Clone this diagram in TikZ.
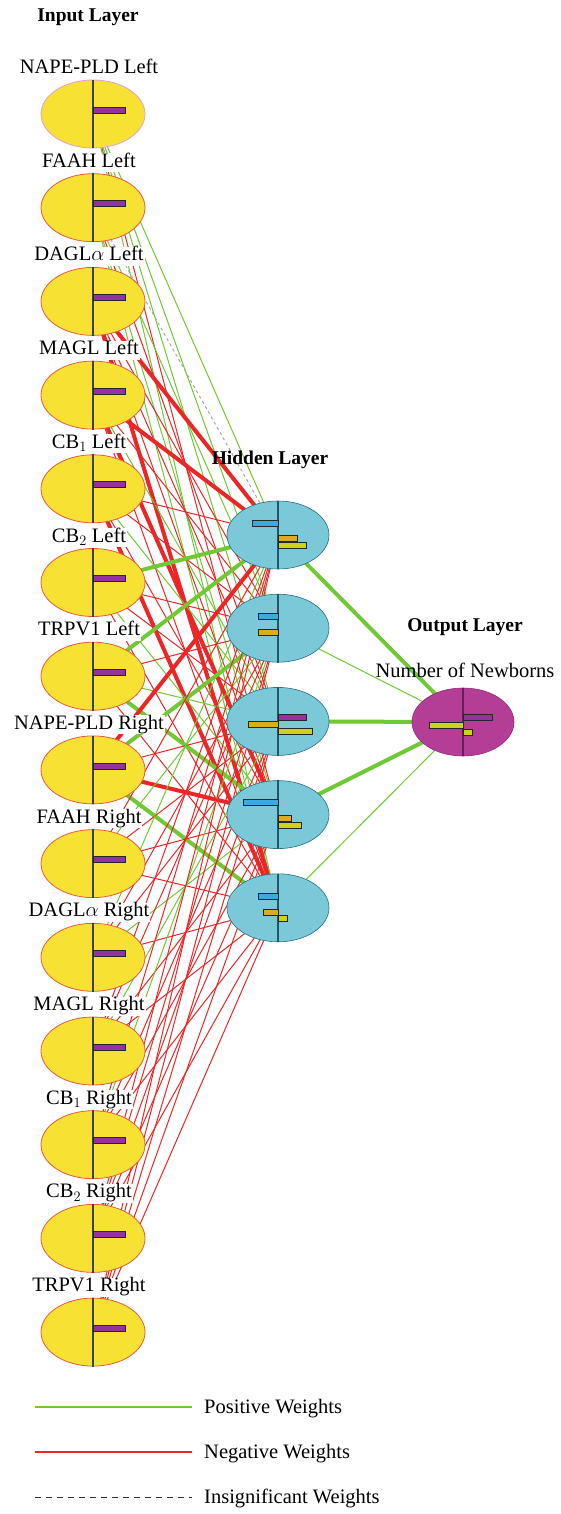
\documentclass[tikz,border=0pt]{standalone}
\usepackage{fontspec}
\setmainfont{Liberation Serif}
\usetikzlibrary{shapes.geometric,backgrounds}

\definecolor{inyellow}{RGB}{247,226,52}
\definecolor{inred}{RGB}{232,90,60}
\definecolor{inpink}{RGB}{220,160,220}
\definecolor{hidblue}{RGB}{122,200,216}
\definecolor{hidborder}{RGB}{40,110,130}
\definecolor{outmag}{RGB}{180,62,150}
\definecolor{outborder}{RGB}{150,40,125}
\definecolor{barpurple}{RGB}{150,50,160}
\definecolor{barblue}{RGB}{60,170,225}
\definecolor{barorange}{RGB}{222,172,24}
\definecolor{baryel}{RGB}{205,210,30}
\definecolor{posgreen}{RGB}{112,200,52}
\definecolor{negred}{RGB}{236,38,38}

\tikzset{
  innode/.style={ellipse, fill=inyellow, line width=0.8pt,
    minimum width=104pt, minimum height=68pt, inner sep=0pt},
  hidnode/.style={ellipse, fill=hidblue, draw=hidborder, line width=0.6pt,
    minimum width=102pt, minimum height=68pt, inner sep=0pt},
  outnode/.style={ellipse, fill=outmag, draw=outborder, line width=0.6pt,
    minimum width=102pt, minimum height=68pt, inner sep=0pt},
  midline/.style={draw=black!75, line width=1.3pt},
  wbar/.style={draw=black!85, line width=0.7pt},
  lbl/.style={font=\fontsize{20.5}{23}\selectfont, fill=white, inner sep=1pt,
    text height=13pt, text depth=4pt},
  ttl/.style={font=\fontsize{19.5}{23}\selectfont\bfseries},
  poswt/.style={draw=posgreen, line width=1pt},
  negwt/.style={draw=negred, line width=1pt},
  poswtb/.style={draw=posgreen, line width=4pt},
  negwtb/.style={draw=negred, line width=4pt},
  insigwt/.style={draw=gray!70, dashed, line width=1pt}
}

% bar inside a node: node, x from, x to, y middle, colour
\newcommand{\weightbar}[5]{%
  \draw[wbar, fill=#5] ([shift={(#2,#4-3)}]#1.center) rectangle ([shift={(#3,#4+3)}]#1.center);}

\begin{document}
\begin{tikzpicture}[x=1pt, y=-1pt]
  \useasboundingbox (0,0) rectangle (560,1514);

  % input layer
  \node[ttl] (tin) at (88,17) {Input Layer};
  \foreach \name/\bc [count=\i] in {NAPE-PLD Left/inpink, FAAH Left/inred,
      DAGL$\alpha$ Left/inred, MAGL Left/inred, CB$_1$ Left/inred, CB$_2$ Left/inred,
      TRPV1 Left/inred, NAPE-PLD Right/inred, FAAH Right/inred,
      DAGL$\alpha$ Right/inred, MAGL Right/inred, CB$_1$ Right/inred,
      CB$_2$ Right/inred, TRPV1 Right/inred}{
    \pgfmathsetmacro{\yy}{114+(\i-1)*93.7}
    \node[innode, draw=\bc] (in\i) at (93,\yy) {};
    \draw[midline] (in\i.north) -- (in\i.south);
    \weightbar{in\i}{0}{32}{-4}{barpurple}
    \node[lbl] (lin\i) at (89,\yy-45) {\name};
  }

  % hidden layer
  \node[ttl] (thid) at (270,460) {Hidden Layer};
  \foreach \i in {1,...,5}{
    \pgfmathsetmacro{\yy}{535+(\i-1)*93.2}
    \node[hidnode] (h\i) at (278,\yy) {};
    \draw[midline, draw=hidborder!80!black] (h\i.north) -- (h\i.south);
  }
  \weightbar{h1}{-26}{0}{-12}{barblue}
  \weightbar{h1}{0}{19}{3}{barorange}
  \weightbar{h1}{0}{28}{10}{baryel}
  \weightbar{h2}{-20}{0}{-12}{barblue}
  \weightbar{h2}{-20}{0}{4}{barorange}
  \weightbar{h3}{0}{28}{-4}{barpurple}
  \weightbar{h3}{-30}{0}{3}{barorange}
  \weightbar{h3}{0}{34}{10}{baryel}
  \weightbar{h4}{-35}{0}{-12}{barblue}
  \weightbar{h4}{0}{13}{4}{barorange}
  \weightbar{h4}{0}{23}{11}{baryel}
  \weightbar{h5}{-20}{0}{-11}{barblue}
  \weightbar{h5}{-15}{0}{5}{barorange}
  \weightbar{h5}{0}{9}{11}{baryel}

  % output layer
  \node[ttl] (tout) at (465,627) {Output Layer};
  \node[outnode] (out) at (463,722) {};
  \draw[midline, draw=outborder!70!black] (out.north) -- (out.south);
  \weightbar{out}{0}{29}{-5}{barpurple}
  \weightbar{out}{-34}{0}{3}{baryel}
  \weightbar{out}{0}{9}{10}{baryel}
  \node[lbl, fill=none] (lout) at (465,673) {Number of Newborns};

  % weights
  \begin{pgfonlayer}{background}
    \foreach \i/\ws in {1/{poswt,poswt,poswt,negwt,poswt}, 2/{insigwt,poswt,negwt,poswt,poswt},
        3/{negwtb,negwt,negwt,negwt,negwtb}, 4/{negwtb,negwt,poswt,negwtb,negwt},
        5/{negwt,negwt,poswt,negwt,negwtb}, 6/{poswtb,negwt,negwt,poswt,negwt},
        7/{poswtb,negwt,poswt,poswtb,negwt}, 8/{negwtb,poswtb,negwt,negwtb,poswtb},
        9/{negwt,poswt,negwt,negwt,negwt}, 10/{poswt,negwt,negwt,poswt,negwt},
        11/{negwt,negwt,poswt,negwt,negwt}, 12/{negwt,poswt,negwt,negwt,negwt},
        13/{negwt,negwt,negwt,negwt,negwt}, 14/{negwt,negwt,negwt,negwt,negwt}}{
      \foreach \w [count=\j] in \ws
        \draw[\w] (in\i.center) -- (h\j.center);
    }
    \foreach \j/\w in {1/poswtb, 2/poswt, 3/poswtb, 4/poswtb, 5/poswt}
      \draw[\w] (h\j.center) -- (out.center);
  \end{pgfonlayer}

  % legend
  \coordinate (lg1a) at (35,1407);
  \coordinate (lg1b) at (192,1407);
  \coordinate (lg2a) at (35,1452);
  \coordinate (lg2b) at (192,1452);
  \coordinate (lg3a) at (35,1497);
  \coordinate (lg3b) at (192,1497);
  \draw[poswt, line width=1.3pt] (lg1a) -- (lg1b);
  \draw[negwt, line width=1.3pt] (lg2a) -- (lg2b);
  \draw[black!80, dash pattern=on 6pt off 5pt, line width=0.9pt] (lg3a) -- (lg3b);
  \node[lbl, fill=none, anchor=west] (lg1) at (203,1409) {Positive Weights};
  \node[lbl, fill=none, anchor=west] (lg2) at (203,1454) {Negative Weights};
  \node[lbl, fill=none, anchor=west] (lg3) at (203,1499) {Insignificant Weights};
\end{tikzpicture}
\end{document}
